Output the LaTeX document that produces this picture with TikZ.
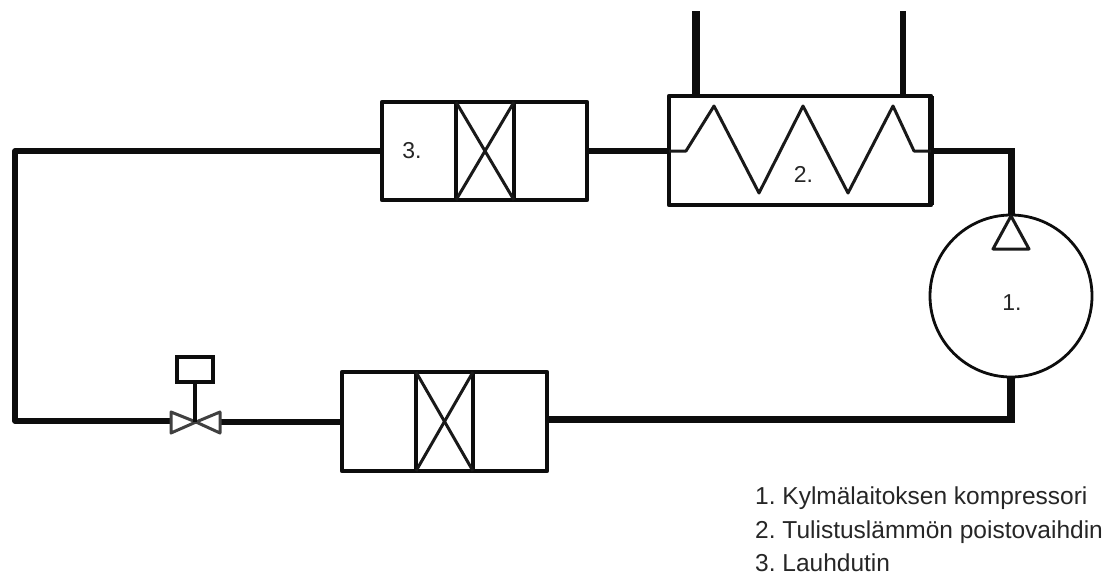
\documentclass[tikz,border=0pt]{standalone}
\usepackage{fontspec}
\setmainfont{Liberation Sans}
\usetikzlibrary{calc}
\tikzset{
  x=1pt,y=-1pt,
  unitbox/.style={draw=black!95,line width=4.2pt,minimum width=#1,inner sep=0pt,outer sep=0pt,line join=round},
  pipe/.style={draw=black!95,line width=#1,line join=round},
  thinline/.style={draw=black!90,line width=3pt,line join=round},
  lbl/.style={font=\fontsize{23}{27}\selectfont,text=black!85,inner sep=0pt,anchor=base},
  legend/.style={font=\fontsize{24.5}{28}\selectfont\frenchspacing,text=black!85,inner sep=0pt,anchor=base west}
}
\begin{document}
\begin{tikzpicture}
\useasboundingbox (0,0) rectangle (1113,576);
% nodes
\node[unitbox=205pt,minimum height=98pt] (cond) at (484.5,151) {};
\node[unitbox=262pt,minimum height=109pt] (desup) at (800,150.5) {};
\node[unitbox=205pt,minimum height=99pt] (evap) at (444.5,421.5) {};
\node[draw=black!95,line width=2.8pt,circle,minimum size=162pt,inner sep=0pt,outer sep=0pt] (comp) at (1011,296) {};
\node[draw=black!95,line width=3.8pt,minimum width=36pt,minimum height=25pt,inner sep=0pt,outer sep=0pt] (act) at (195,369.5) {};
\coordinate (vc) at (196,422);
\coordinate (vl) at (170,422);
\coordinate (vr) at (221,422);
\coordinate (cornerTL) at (15,151);
\coordinate (cornerBL) at (15,421);
\coordinate (cornerTR) at (1011,151);
\coordinate (cornerBR) at (1011,419);
\coordinate (inA) at (696,11);
\coordinate (inB) at (903,11);
\coordinate (tip) at (1011,216);
\coordinate (tl) at (993,249);
\coordinate (tr) at (1029,249);
% pipes
\draw[pipe=5.5pt] (cond.west) -- (cornerTL) -- (cornerBL) -- (vl |- cornerBL);
\draw[pipe=6pt] (cond.east) -- (desup.west |- cond.east);
\draw[pipe=5.5pt] (desup.east |- cornerTR) -- (cornerTR);
\draw[pipe=7pt] ($(cornerTR)+(0,-2.75)$) -- (tip);
\draw[pipe=7.5pt] (comp.south) -- ($(cornerBR)+(0,3.5)$);
\draw[pipe=7pt] ($(cornerBR)+(3.75,0)$) -- (evap.east |- cornerBR);
\draw[pipe=5.5pt] (vr) -- (evap.west |- vr);
\draw[pipe=8pt] (inA) -- (inA |- desup.north);
\draw[pipe=5.5pt] (inB) -- (inB |- desup.north);
\draw[pipe=6pt] (desup.north east) -- (desup.south east);
% coil
\draw[thinline] (desup.west |- cornerTR) -- (686,151) -- (714,106) -- (759,193) -- (803,106) -- (848,193) -- (893,106) -- (914,151) -- (desup.east |- cornerTR);
% HX internals
\foreach \n/\a/\b in {cond/456/514,evap/416/473}{
  \draw[pipe=4pt] (\a,0 |- \n.north) -- (\a,0 |- \n.south);
  \draw[pipe=4pt] (\b,0 |- \n.north) -- (\b,0 |- \n.south);
  \draw[thinline] (\a,0 |- \n.north) -- (\b,0 |- \n.south);
  \draw[thinline] (\b,0 |- \n.north) -- (\a,0 |- \n.south);
}
% compressor triangle
\draw[thinline] (tip) -- (tl) -- (tr) -- cycle;
% valve
\draw[thinline,draw=black!75] (vc) -- (171,412) -- (171,433) -- cycle;
\draw[thinline,draw=black!75] (vc) -- (220,412) -- (220,433) -- cycle;
\draw[pipe=3.6pt] (act.south) -- (act.south |- vc);
% labels
\node[lbl] (l3) at (412,158) {3.};
\node[lbl] (l2) at (803.5,182) {2.};
\node[lbl] (l1) at (1012,310) {1.};
\node[legend] (k1) at (755,504) {1. Kylmälaitoksen kompressori};
\node[legend] (k2) at (755,538) {2. Tulistuslämmön poistovaihdin};
\node[legend] (k3) at (755,571) {3. Lauhdutin};
\end{tikzpicture}
\end{document}
